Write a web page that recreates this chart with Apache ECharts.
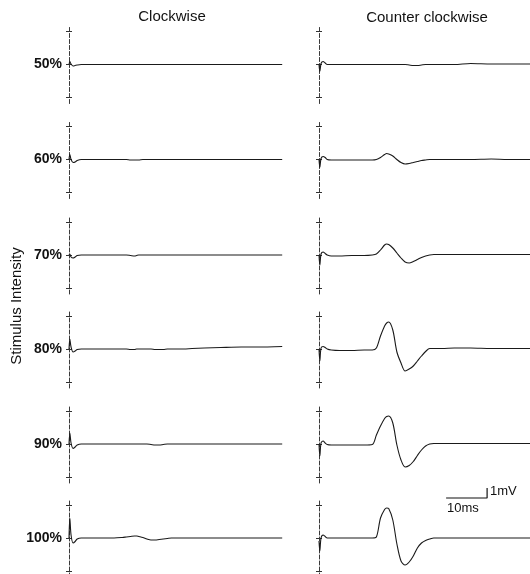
<!DOCTYPE html>
<html><head><meta charset="utf-8">
<script src="https://cdn.jsdelivr.net/npm/echarts@6/dist/echarts.min.js"></script>
<style>html,body{margin:0;padding:0;background:#fff}#c{width:530px;height:574px}</style>
</head><body><div id="c"></div>
<script>
// ---- data (time in ms, amplitude in mV) ----
const timeMs = [0, 0.2, 0.5, 1, 1.5, 2, 3, 5, 8, 11, 13, 14, 15, 16, 16.5, 17, 18, 19, 20, 21, 22, 23, 24, 25, 26, 27, 28, 30, 33, 37, 42, 46, 52];
const rowLabels = ['50%', '60%', '70%', '80%', '90%', '100%'];
const columnTitles = ['Clockwise', 'Counter clockwise'];
const yAxisTitle = 'Stimulus Intensity';

const cw50 = [0, 0.3, 0.05, -0.15, -0.1, -0.05, 0, 0, 0, 0, 0, 0, 0, 0, 0, 0, 0, 0, 0, 0, 0, 0, 0, 0, 0, 0, 0, 0, 0, 0, 0, 0, 0];
const cw60 = [0, 0.5, 0, -0.3, -0.25, -0.1, 0, 0, 0, 0, 0, 0, -0.05, -0.05, -0.05, -0.05, 0, 0, 0, 0, 0, 0, 0, 0, 0, 0, 0, 0, 0, 0, 0, 0, 0];
const cw70 = [0, 0.1, -0.2, -0.3, -0.2, -0.05, 0, 0, 0, 0, 0, 0, -0.05, -0.1, -0.05, 0, 0, 0, 0, 0, 0, 0, 0, 0, 0, 0, 0, 0, 0, 0, 0, 0, 0];
const cw80 = [0, 1.0, 0.2, -0.3, -0.2, -0.05, 0, 0, 0, 0, 0, 0, -0.05, -0.05, 0, 0, 0, 0, 0, -0.05, -0.05, -0.05, 0, 0, 0, 0, 0, 0.05, 0.1, 0.15, 0.2, 0.2, 0.25];
const cw90 = [0, 1.1, 0.1, -0.45, -0.3, -0.1, 0, 0, 0, 0, 0, 0, 0, 0, 0, 0, 0, 0, -0.05, -0.1, -0.1, -0.05, 0, 0, 0, 0, 0, 0, 0, 0, 0, 0, 0];
const cw100 = [0, 2.0, 0.3, -0.5, -0.35, -0.1, 0, 0, 0, 0, 0.05, 0.1, 0.15, 0.2, 0.2, 0.15, 0.05, -0.1, -0.2, -0.2, -0.15, -0.1, -0.05, 0, 0, 0, 0, 0, 0, 0, 0, 0, 0];

const ccw50 = [0, -0.7, 0.1, 0.3, 0.15, 0, 0, 0, 0, 0, 0, 0, 0, 0, 0, 0, 0, 0, 0, 0, -0.05, -0.1, -0.1, -0.05, 0, 0, 0, 0, 0, 0.1, 0.05, 0.05, 0.05];
const ccw60 = [0, -0.8, 0.1, 0.3, 0.2, 0, -0.05, -0.05, -0.05, -0.05, -0.05, 0, 0.2, 0.5, 0.6, 0.55, 0.35, 0, -0.3, -0.45, -0.4, -0.3, -0.2, -0.1, -0.05, 0, 0, 0, 0, 0, 0.05, 0, 0];
const ccw70 = [0, -1.0, 0.1, 0.3, 0.15, 0, -0.1, -0.1, -0.05, -0.05, 0, 0.1, 0.5, 1.0, 1.1, 1.05, 0.7, 0.2, -0.3, -0.7, -0.8, -0.65, -0.45, -0.25, -0.1, 0, 0.05, 0.05, 0.05, 0.05, 0.05, 0.05, 0.05];
const ccw80 = [0, -1.2, 0.1, 0.25, 0.15, 0, -0.1, -0.15, -0.15, -0.1, -0.1, 0.1, 1.3, 2.3, 2.6, 2.7, 1.9, -0.3, -1.4, -2.2, -2.0, -1.7, -1.2, -0.7, -0.25, 0.05, 0.05, 0.05, 0.1, 0.1, 0.05, 0.05, 0.05];
const ccw90 = [0, -1.2, 0.1, 0.3, 0.1, -0.05, -0.1, -0.1, -0.1, -0.1, -0.05, 0.9, 1.8, 2.55, 2.75, 2.8, 2.1, -0.1, -1.6, -2.3, -2.15, -1.75, -1.15, -0.6, -0.2, 0, 0.05, 0.05, 0.05, 0.05, 0.05, 0.05, 0.05];
const ccw100 = [-0.3, -1.3, 0, 0.3, 0.15, 0, 0, 0, 0, 0, 0, 0.1, 2.0, 2.85, 3.0, 2.95, 1.8, -0.6, -2.3, -2.7, -2.4, -1.8, -1.0, -0.5, -0.25, -0.1, 0, 0, 0, 0, 0, 0, 0];

const clockwiseTraces = [cw50, cw60, cw70, cw80, cw90, cw100];
const counterTraces = [ccw50, ccw60, ccw70, ccw80, ccw90, ccw100];

const tickValuesMv = [-3.3, 0, 3.3];
const scaleBarMs = [31, 41, 41];
const scaleBarMv = [4, 4, 5];
const scaleBarLabels = ['1mV', '10ms'];

// ---- layout ----
const FONT = 'Liberation Sans, Arial, Helvetica, sans-serif';
const baselines = [64.5, 159.5, 255, 349, 444, 538];
const pxPerMv = 10, pxPerMs = 4.1, yHalf = 3.9;
const columns = [{ left: 69, xMax: 52 }, { left: 319, xMax: 51.5 }];

const grid = [], xAxis = [], yAxis = [], series = [];
columns.forEach((col, c) => {
  const traces = c === 0 ? clockwiseTraces : counterTraces;
  baselines.forEach((b, r) => {
    const g = grid.length;
    grid.push({
      left: col.left, top: b - yHalf * pxPerMv,
      width: col.xMax * pxPerMs, height: 2 * yHalf * pxPerMv,
      containLabel: false, outerBoundsMode: 'none'
    });
    xAxis.push({ gridIndex: g, type: 'value', min: 0, max: col.xMax, show: false });
    yAxis.push({
      gridIndex: g, type: 'value', position: 'left', min: -yHalf, max: yHalf,
      axisLine: { show: true, lineStyle: { color: '#3a3a3a', width: 1, type: [4, 2] } },
      axisTick: { show: false }, axisLabel: { show: false }, splitLine: { show: false }
    });
    yAxis.push({
      gridIndex: g, type: 'value', position: 'left', min: -yHalf, max: yHalf, offset: -3,
      axisLine: { show: false },
      axisTick: { show: true, length: 6, customValues: tickValuesMv, lineStyle: { color: '#333', width: 1 } },
      axisLabel: {
        show: c === 0, customValues: [0], margin: 10,
        formatter: () => rowLabels[r],
        fontFamily: FONT, fontSize: 14, fontWeight: 'bold', color: '#111'
      },
      splitLine: { show: false }
    });
    series.push({
      type: 'line', xAxisIndex: g, yAxisIndex: 2 * g,
      data: timeMs.map((t, i) => [t, traces[r][i]]),
      showSymbol: false, smooth: 0.3, animation: false,
      lineStyle: { color: '#1a1a1a', width: 1.1 }
    });
  });
});

// scale bar drawn in the last counter-clockwise panel's coordinates
const sbGrid = grid.length - 1;
series.push({
  type: 'line', xAxisIndex: sbGrid, yAxisIndex: 2 * sbGrid, clip: false,
  data: scaleBarMs.map((t, i) => [t, scaleBarMv[i]]),
  showSymbol: false, animation: false,
  lineStyle: { color: '#111', width: 1.2 }
});

const chart = echarts.init(document.getElementById('c'), null, { renderer: 'canvas' });
chart.setOption({
  animation: false,
  backgroundColor: '#fff',
  grid, xAxis, yAxis, series,
  graphic: [
    { type: 'text', x: 172, y: 17, style: { text: columnTitles[0], font: '15px ' + FONT, fill: '#111', textAlign: 'center', textVerticalAlign: 'middle' } },
    { type: 'text', x: 427, y: 18, style: { text: columnTitles[1], font: '15px ' + FONT, fill: '#111', textAlign: 'center', textVerticalAlign: 'middle' } },
    { type: 'text', x: 17, y: 306, rotation: Math.PI / 2, style: { text: yAxisTitle, font: '15px ' + FONT, fill: '#111', textAlign: 'center', textVerticalAlign: 'middle' } },
    { type: 'text', x: 490, y: 491, style: { text: scaleBarLabels[0], font: '13px ' + FONT, fill: '#111', textAlign: 'left', textVerticalAlign: 'middle' } },
    { type: 'text', x: 447, y: 508, style: { text: scaleBarLabels[1], font: '13px ' + FONT, fill: '#111', textAlign: 'left', textVerticalAlign: 'middle' } }
  ]
});
</script>
</body></html>
